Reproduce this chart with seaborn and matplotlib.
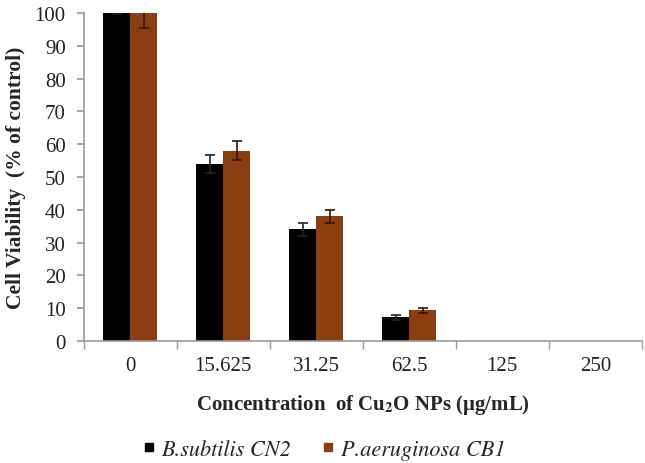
import matplotlib
matplotlib.use('Agg')
import matplotlib.pyplot as plt
import pandas as pd
import seaborn as sns

concentrations = ['0', '15.625', '31.25', '62.5', '125', '250']
strains = ['B.subtilis CN2', 'P.aeruginosa CB1']
bsub_values = [100, 54, 34, 7.2, 0, 0]
bsub_errors = [0.3, 2.8, 2.0, 0.8, 0, 0]
paer_values = [100, 58, 38, 9.3, 0, 0]
paer_errors = [4.5, 2.9, 2.0, 0.8, 0, 0]
bar_colors = ['#000000', '#8B3E0F']

sns.set_theme(style='white')
plt.rcParams['font.family'] = ['Liberation Serif', 'DejaVu Serif']
plt.rcParams['mathtext.fontset'] = 'stix'

df = pd.DataFrame({
    'conc': concentrations * 2,
    'value': bsub_values + paer_values,
    'strain': [strains[0]] * 6 + [strains[1]] * 6,
})

fig = plt.figure(figsize=(6.45, 4.64), dpi=100)
ax = fig.add_axes([0.130, 0.263, 0.865, 0.707])

sns.barplot(data=df, x='conc', y='value', hue='strain', order=concentrations,
            hue_order=strains, palette=bar_colors, width=0.58,
            gap=0, errorbar=None, saturation=1, linewidth=0, ax=ax, legend=False)

for container, errs, ecol in zip(ax.containers, [bsub_errors, paer_errors],
                                 ['#222222', '#3a120a']):
    for bar, e in zip(container, errs):
        if e <= 0:
            continue
        xc = bar.get_x() + bar.get_width() / 2
        ax.errorbar(xc, bar.get_height(), yerr=e, color=ecol, capsize=3.5,
                    elinewidth=1.2, capthick=1.2, fmt='none', zorder=5)

ax.set_ylim(0, 100)
ax.set_xlim(-0.5, 5.5)
ax.set_yticks(range(0, 101, 10))
ax.set_xticks(range(6))
ax.set_xticklabels(concentrations)
ax.tick_params(axis='both', labelsize=15, colors='#222222')
ax.tick_params(axis='x', length=0, pad=11)
ax.tick_params(axis='y', length=5, left=True, color='#999999', pad=8)
# minor ticks at category borders
ax.set_xticks([i - 0.5 for i in range(7)], minor=True)
ax.tick_params(axis='x', which='minor', bottom=True, length=6, color='#999999')

for side in ['top', 'right']:
    ax.spines[side].set_visible(False)
for side in ['left', 'bottom']:
    ax.spines[side].set_color('#999999')
    ax.spines[side].set_linewidth(1.2)

ax.set_ylabel('Cell Viability  (% of control)', fontsize=15.5,
              fontweight='bold', labelpad=6)
ax.set_xlabel(r'Concentration  of Cu$_\mathbf{2}$O NPs (μg/mL)', fontsize=15,
              fontweight='bold', labelpad=12)

handles = [plt.Line2D([], [], marker='s', linestyle='none', markersize=6,
                      color=c) for c in bar_colors]
fig.legend(handles, strains, loc='center', bbox_to_anchor=(0.498, 0.03),
           ncol=2, frameon=False,
           prop={'family': ['STIXGeneral'], 'style': 'italic', 'size': 16},
           handletextpad=0.05, columnspacing=1.2, handlelength=1.0)

fig.savefig('out.png', dpi=100)
